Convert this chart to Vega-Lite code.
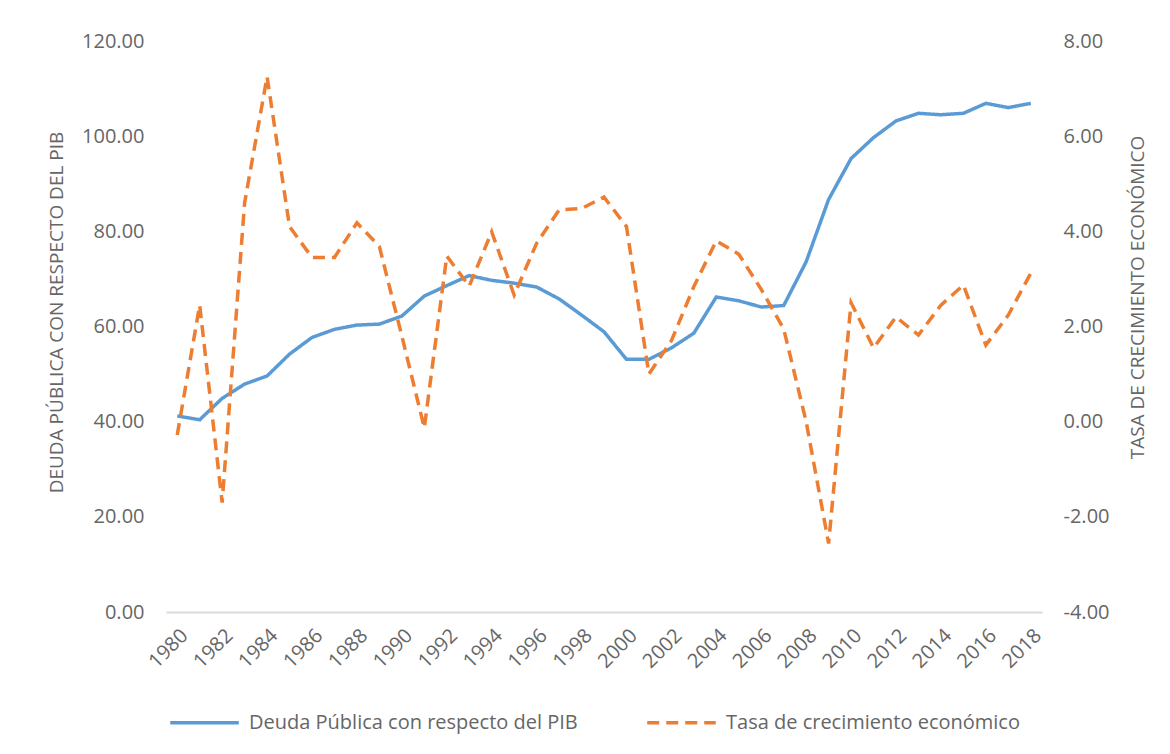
{
  "$schema": "https://vega.github.io/schema/vega-lite/v6.json",
  "width": 876,
  "height": 571,
  "autosize": {"type": "none"},
  "padding": {"left": 166, "top": 41, "right": 128, "bottom": 142},
  "background": "white",
  "config": {
    "font": "Open Sans",
    "view": {"stroke": null},
    "axis": {"labelFont": "Open Sans", "titleFont": "Open Sans", "labelColor": "#666666", "titleColor": "#666666", "labelFontSize": 20, "titleFontSize": 19, "titleFontWeight": "normal", "grid": false, "ticks": false, "tickSize": 0},
    "legend": {"labelFont": "Open Sans", "labelFontSize": 20, "labelColor": "#666666", "labelLimit": 600}
  },
  "data": {"values": [
    {"anio": 1980, "serie": "Deuda Pública con respecto del PIB", "valor": 41.2},
    {"anio": 1981, "serie": "Deuda Pública con respecto del PIB", "valor": 40.4},
    {"anio": 1982, "serie": "Deuda Pública con respecto del PIB", "valor": 44.9},
    {"anio": 1983, "serie": "Deuda Pública con respecto del PIB", "valor": 47.9},
    {"anio": 1984, "serie": "Deuda Pública con respecto del PIB", "valor": 49.6},
    {"anio": 1985, "serie": "Deuda Pública con respecto del PIB", "valor": 54.2},
    {"anio": 1986, "serie": "Deuda Pública con respecto del PIB", "valor": 57.7},
    {"anio": 1987, "serie": "Deuda Pública con respecto del PIB", "valor": 59.4},
    {"anio": 1988, "serie": "Deuda Pública con respecto del PIB", "valor": 60.3},
    {"anio": 1989, "serie": "Deuda Pública con respecto del PIB", "valor": 60.5},
    {"anio": 1990, "serie": "Deuda Pública con respecto del PIB", "valor": 62.2},
    {"anio": 1991, "serie": "Deuda Pública con respecto del PIB", "valor": 66.4},
    {"anio": 1992, "serie": "Deuda Pública con respecto del PIB", "valor": 68.6},
    {"anio": 1993, "serie": "Deuda Pública con respecto del PIB", "valor": 70.7},
    {"anio": 1994, "serie": "Deuda Pública con respecto del PIB", "valor": 69.7},
    {"anio": 1995, "serie": "Deuda Pública con respecto del PIB", "valor": 69.1},
    {"anio": 1996, "serie": "Deuda Pública con respecto del PIB", "valor": 68.3},
    {"anio": 1997, "serie": "Deuda Pública con respecto del PIB", "valor": 65.8},
    {"anio": 1998, "serie": "Deuda Pública con respecto del PIB", "valor": 62.4},
    {"anio": 1999, "serie": "Deuda Pública con respecto del PIB", "valor": 58.9},
    {"anio": 2000, "serie": "Deuda Pública con respecto del PIB", "valor": 53.1},
    {"anio": 2001, "serie": "Deuda Pública con respecto del PIB", "valor": 53.1},
    {"anio": 2002, "serie": "Deuda Pública con respecto del PIB", "valor": 55.5},
    {"anio": 2003, "serie": "Deuda Pública con respecto del PIB", "valor": 58.6},
    {"anio": 2004, "serie": "Deuda Pública con respecto del PIB", "valor": 66.2},
    {"anio": 2005, "serie": "Deuda Pública con respecto del PIB", "valor": 65.4},
    {"anio": 2006, "serie": "Deuda Pública con respecto del PIB", "valor": 64.1},
    {"anio": 2007, "serie": "Deuda Pública con respecto del PIB", "valor": 64.4},
    {"anio": 2008, "serie": "Deuda Pública con respecto del PIB", "valor": 73.6},
    {"anio": 2009, "serie": "Deuda Pública con respecto del PIB", "valor": 86.7},
    {"anio": 2010, "serie": "Deuda Pública con respecto del PIB", "valor": 95.3},
    {"anio": 2011, "serie": "Deuda Pública con respecto del PIB", "valor": 99.7},
    {"anio": 2012, "serie": "Deuda Pública con respecto del PIB", "valor": 103.2},
    {"anio": 2013, "serie": "Deuda Pública con respecto del PIB", "valor": 104.8},
    {"anio": 2014, "serie": "Deuda Pública con respecto del PIB", "valor": 104.5},
    {"anio": 2015, "serie": "Deuda Pública con respecto del PIB", "valor": 104.8},
    {"anio": 2016, "serie": "Deuda Pública con respecto del PIB", "valor": 106.9},
    {"anio": 2017, "serie": "Deuda Pública con respecto del PIB", "valor": 106.0},
    {"anio": 2018, "serie": "Deuda Pública con respecto del PIB", "valor": 106.9},
    {"anio": 1980, "serie": "Tasa de crecimiento económico", "valor": -0.28},
    {"anio": 1981, "serie": "Tasa de crecimiento económico", "valor": 2.45},
    {"anio": 1982, "serie": "Tasa de crecimiento económico", "valor": -1.7},
    {"anio": 1983, "serie": "Tasa de crecimiento económico", "valor": 4.6},
    {"anio": 1984, "serie": "Tasa de crecimiento económico", "valor": 7.25},
    {"anio": 1985, "serie": "Tasa de crecimiento económico", "valor": 4.1},
    {"anio": 1986, "serie": "Tasa de crecimiento económico", "valor": 3.45},
    {"anio": 1987, "serie": "Tasa de crecimiento económico", "valor": 3.45},
    {"anio": 1988, "serie": "Tasa de crecimiento económico", "valor": 4.18},
    {"anio": 1989, "serie": "Tasa de crecimiento económico", "valor": 3.68},
    {"anio": 1990, "serie": "Tasa de crecimiento económico", "valor": 1.8},
    {"anio": 1991, "serie": "Tasa de crecimiento económico", "valor": -0.13},
    {"anio": 1992, "serie": "Tasa de crecimiento económico", "valor": 3.48},
    {"anio": 1993, "serie": "Tasa de crecimiento económico", "valor": 2.85},
    {"anio": 1994, "serie": "Tasa de crecimiento económico", "valor": 3.99},
    {"anio": 1995, "serie": "Tasa de crecimiento económico", "valor": 2.66},
    {"anio": 1996, "serie": "Tasa de crecimiento económico", "valor": 3.75},
    {"anio": 1997, "serie": "Tasa de crecimiento económico", "valor": 4.45},
    {"anio": 1998, "serie": "Tasa de crecimiento económico", "valor": 4.48},
    {"anio": 1999, "serie": "Tasa de crecimiento económico", "valor": 4.72},
    {"anio": 2000, "serie": "Tasa de crecimiento económico", "valor": 4.1},
    {"anio": 2001, "serie": "Tasa de crecimiento económico", "valor": 1.0},
    {"anio": 2002, "serie": "Tasa de crecimiento económico", "valor": 1.7},
    {"anio": 2003, "serie": "Tasa de crecimiento económico", "valor": 2.84},
    {"anio": 2004, "serie": "Tasa de crecimiento económico", "valor": 3.8},
    {"anio": 2005, "serie": "Tasa de crecimiento económico", "valor": 3.52},
    {"anio": 2006, "serie": "Tasa de crecimiento económico", "valor": 2.78},
    {"anio": 2007, "serie": "Tasa de crecimiento económico", "valor": 1.95},
    {"anio": 2008, "serie": "Tasa de crecimiento económico", "valor": 0.0},
    {"anio": 2009, "serie": "Tasa de crecimiento económico", "valor": -2.56},
    {"anio": 2010, "serie": "Tasa de crecimiento económico", "valor": 2.5},
    {"anio": 2011, "serie": "Tasa de crecimiento económico", "valor": 1.55},
    {"anio": 2012, "serie": "Tasa de crecimiento económico", "valor": 2.2},
    {"anio": 2013, "serie": "Tasa de crecimiento económico", "valor": 1.82},
    {"anio": 2014, "serie": "Tasa de crecimiento económico", "valor": 2.45},
    {"anio": 2015, "serie": "Tasa de crecimiento económico", "valor": 2.87},
    {"anio": 2016, "serie": "Tasa de crecimiento económico", "valor": 1.61},
    {"anio": 2017, "serie": "Tasa de crecimiento económico", "valor": 2.24},
    {"anio": 2018, "serie": "Tasa de crecimiento económico", "valor": 3.12}
  ]},
  "encoding": {
    "x": {
      "field": "anio", "type": "quantitative",
      "scale": {"domain": [1979.5, 2018.5], "nice": false, "zero": false},
      "axis": {
        "title": null,
        "values": [1980,1982,1984,1986,1988,1990,1992,1994,1996,1998,2000,2002,2004,2006,2008,2010,2012,2014,2016,2018],
        "format": "d", "labelAngle": -45, "labelFontSize": 20, "labelPadding": 13,
        "domainColor": "#D9D9D9", "domainWidth": 2, "labelFlush": false, "labelOverlap": false
      }
    },
    "color": {
      "field": "serie", "type": "nominal",
      "scale": {"domain": ["Deuda Pública con respecto del PIB", "Tasa de crecimiento económico"], "range": ["#5B9BD5", "#ED7D31"]},
      "legend": {
        "title": null, "orient": "none", "direction": "horizontal",
        "legendX": 2, "legendY": 645, "symbolType": "stroke", "symbolSize": 4700,
        "symbolStrokeWidth": 3.5, "columnPadding": 62, "labelOffset": 8, "labelLimit": 600
      }
    },
    "strokeDash": {
      "field": "serie", "type": "nominal",
      "scale": {"domain": ["Deuda Pública con respecto del PIB", "Tasa de crecimiento económico"], "range": [[1, 0], [12, 7]]},
      "legend": null
    }
  },
  "layer": [
    {
      "transform": [{"filter": "datum.serie === 'Deuda Pública con respecto del PIB'"}],
      "mark": {"type": "line", "strokeWidth": 3.5},
      "encoding": {
        "y": {
          "field": "valor", "type": "quantitative",
          "scale": {"domain": [0, 120], "nice": false},
          "axis": {"title": "DEUDA PÚBLICA CON RESPECTO DEL PIB", "values": [0,20,40,60,80,100,120], "format": ".2f", "domain": false, "labelPadding": 22, "titlePadding": 15, "titleY": 271}
        }
      }
    },
    {
      "transform": [{"filter": "datum.serie === 'Tasa de crecimiento económico'"}],
      "mark": {"type": "line", "strokeWidth": 3.5},
      "encoding": {
        "y": {
          "field": "valor", "type": "quantitative",
          "scale": {"domain": [-4, 8], "nice": false, "zero": false},
          "axis": {"orient": "right", "title": "TASA DE CRECIMIENTO ECONÓMICO", "titleAngle": -90, "titleY": 256, "values": [-4,-2,0,2,4,6,8], "labelExpr": "replace(format(datum.value, '.2f'), '\u2212', '-')", "domain": false, "labelPadding": 21, "titlePadding": 39}
        }
      }
    }
  ],
  "resolve": {"scale": {"y": "independent"}}
}
